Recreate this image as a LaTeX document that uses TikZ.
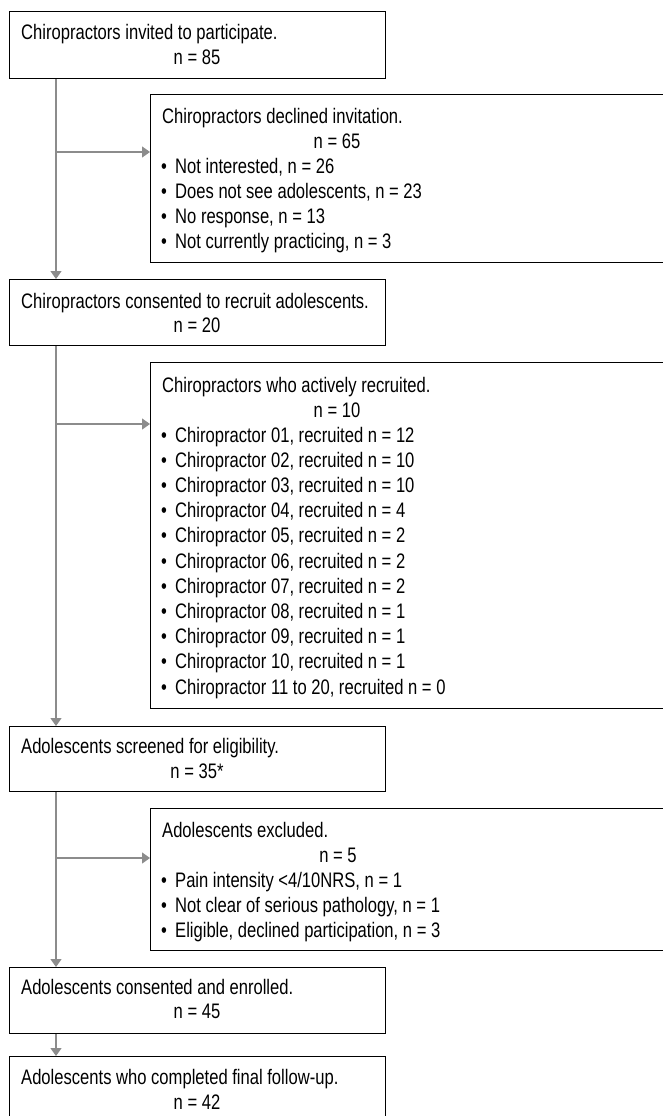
\documentclass[tikz,border=0pt]{standalone}
\usepackage{fontspec}
\setmainfont{Liberation Sans}[FakeStretch=0.79]
\usetikzlibrary{arrows.meta}
\tikzset{
  box/.style={draw=black, line width=1.2pt, anchor=north west, inner sep=0pt},
  txt/.style={inner sep=0pt, anchor=base west, font=\fontsize{21}{25}\selectfont},
  ctr/.style={inner sep=0pt, anchor=base, font=\fontsize{21}{25}\selectfont},
  arr/.style={draw=gray!90, line width=1.3pt, -{Triangle[length=8pt,width=11pt]}},
  ln/.style={draw=gray!90, line width=1.3pt}
}
\newcommand{\bul}{\makebox[14pt][l]{•}}
\begin{document}
\begin{tikzpicture}[x=1pt,y=-1pt]
\clip (0,0) rectangle (663,1116);
\fill[white] (0,0) rectangle (663,1116);
% main boxes
\node[box, minimum width=376pt, minimum height=67pt] (b1) at (9,11) {};
\node[box, minimum width=376pt, minimum height=66pt] (b2) at (9,279) {};
\node[box, minimum width=376pt, minimum height=65pt] (b3) at (9,726) {};
\node[box, minimum width=376pt, minimum height=66pt] (b4) at (9,967) {};
\node[box, minimum width=376pt, minimum height=80pt] (b5) at (9,1056) {};
% side boxes
\node[box, minimum width=540pt, minimum height=168pt] (s1) at (150,94) {};
\node[box, minimum width=540pt, minimum height=346pt] (s2) at (150,362) {};
\node[box, minimum width=540pt, minimum height=142pt] (s3) at (150,808) {};
% texts main
\node[txt] (b1a) at (21,40) {Chiropractors invited to participate.};
\node[ctr] (b1b) at (197,64) {n = 85};
\node[txt] (b2a) at (21,308) {Chiropractors consented to recruit adolescents.};
\node[ctr] (b2b) at (197,332) {n = 20};
\node[txt] (b3a) at (21,753) {Adolescents screened for eligibility.};
\node[ctr] (b3b) at (197,778) {n = 35*};
\node[txt] (b4a) at (21,994) {Adolescents consented and enrolled.};
\node[ctr] (b4b) at (197,1018) {n = 45};
\node[txt] (b5a) at (21,1084) {Adolescents who completed final follow-up.};
\node[ctr] (b5b) at (197,1109) {n = 42};
% side texts 1
\node[txt] (s1a) at (162,123) {Chiropractors declined invitation.};
\node[ctr] (s1b) at (337,148) {n = 65};
\node[txt] (s1c) at (161,173) {\bul Not interested, n = 26};
\node[txt] (s1d) at (161,198) {\bul Does not see adolescents, n = 23};
\node[txt] (s1e) at (161,223) {\bul No response, n = 13};
\node[txt] (s1f) at (161,248) {\bul Not currently practicing, n = 3};
% side texts 2
\node[txt] (s2a) at (162,392) {Chiropractors who actively recruited.};
\node[ctr] (s2b) at (337,417) {n = 10};
\node[txt] (s2c1) at (161,442) {\bul Chiropractor 01, recruited n = 12};
\node[txt] (s2c2) at (161,467.2) {\bul Chiropractor 02, recruited n = 10};
\node[txt] (s2c3) at (161,492.4) {\bul Chiropractor 03, recruited n = 10};
\node[txt] (s2c4) at (161,517.6) {\bul Chiropractor 04, recruited n = 4};
\node[txt] (s2c5) at (161,542.8) {\bul Chiropractor 05, recruited n = 2};
\node[txt] (s2c6) at (161,568) {\bul Chiropractor 06, recruited n = 2};
\node[txt] (s2c7) at (161,593.2) {\bul Chiropractor 07, recruited n = 2};
\node[txt] (s2c8) at (161,618.4) {\bul Chiropractor 08, recruited n = 1};
\node[txt] (s2c9) at (161,643.6) {\bul Chiropractor 09, recruited n = 1};
\node[txt] (s2c10) at (161,668.8) {\bul Chiropractor 10, recruited n = 1};
\node[txt] (s2c11) at (161,694) {\bul Chiropractor 11 to 20, recruited n = 0};
% side texts 3
\node[txt] (s3a) at (162,837) {Adolescents excluded.};
\node[ctr] (s3b) at (338,862) {n = 5};
\node[txt] (s3c) at (161,887) {\bul Pain intensity <4/10NRS, n = 1};
\node[txt] (s3d) at (161,912) {\bul Not clear of serious pathology, n = 1};
\node[txt] (s3e) at (161,937) {\bul Eligible, declined participation, n = 3};
% connectors
\coordinate (t1) at (56,152);
\coordinate (t2) at (56,424);
\coordinate (t3) at (56,858);
\draw[arr] (b1.south -| t1) -- (b2.north -| t1);
\draw[arr] (t1) -- (t1 -| s1.west);
\draw[arr] (b2.south -| t2) -- (b3.north -| t2);
\draw[arr] (t2) -- (t2 -| s2.west);
\draw[arr] (b3.south -| t3) -- (b4.north -| t3);
\draw[arr] (t3) -- (t3 -| s3.west);
\draw[arr] (b4.south -| t3) -- (b5.north -| t3);
\end{tikzpicture}
\end{document}
